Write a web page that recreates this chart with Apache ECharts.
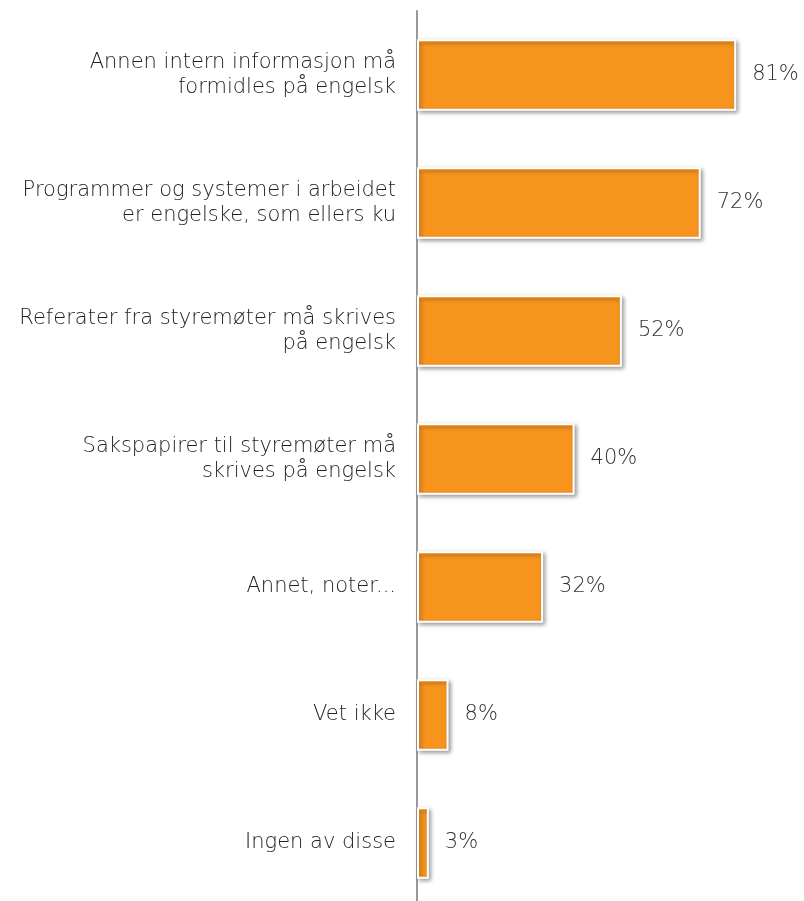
<!DOCTYPE html>
<html>
<head>
<meta charset="utf-8">
<script src="https://cdn.jsdelivr.net/npm/echarts@6/dist/echarts.min.js"></script>
<style>
  html, body { margin: 0; padding: 0; background: #fff; }
  #chart { width: 804px; height: 901px; }
</style>
</head>
<body>
<div id="chart"></div>
<script>
const categories = [
  'Annen intern informasjon må\nformidles på engelsk',
  'Programmer og systemer i arbeidet\ner engelske, som ellers ku',
  'Referater fra styremøter må skrives\npå engelsk',
  'Sakspapirer til styremøter må\nskrives på engelsk',
  'Annet, noter...',
  'Vet ikke',
  'Ingen av disse'
];
const values = [81, 72, 52, 40, 32, 8, 3];

const chart = echarts.init(document.getElementById('chart'));
chart.setOption({
  animation: false,
  grid: {
    left: 417,
    top: 11,
    right: -7,
    bottom: -6,
    outerBoundsMode: 'none',
    containLabel: false
  },
  xAxis: {
    type: 'value',
    min: 0,
    max: 100,
    show: false
  },
  yAxis: {
    type: 'category',
    inverse: true,
    data: categories,
    axisLine: { show: true, lineStyle: { color: '#999', width: 2 } },
    axisTick: { show: false },
    axisLabel: {
      margin: 21,
      fontFamily: 'DejaVu Sans',
      fontWeight: 200,
      fontSize: 21,
      lineHeight: 25,
      color: '#222',
      align: 'right'
    }
  },
  series: [
    {
      type: 'bar',
      data: values,
      barWidth: '56%',
      itemStyle: {
        color: '#F7941E',
        borderColor: '#fff',
        borderWidth: 2,
        shadowBlur: 4,
        shadowColor: 'rgba(0,0,0,0.35)',
        shadowOffsetX: 2,
        shadowOffsetY: 2
      },
      label: {
        show: true,
        position: 'right',
        distance: 16,
        formatter: '{c}%',
        fontFamily: 'DejaVu Sans',
        fontWeight: 200,
        fontSize: 21,
        color: '#333'
      }
    }
  ]
});
</script>
</body>
</html>
